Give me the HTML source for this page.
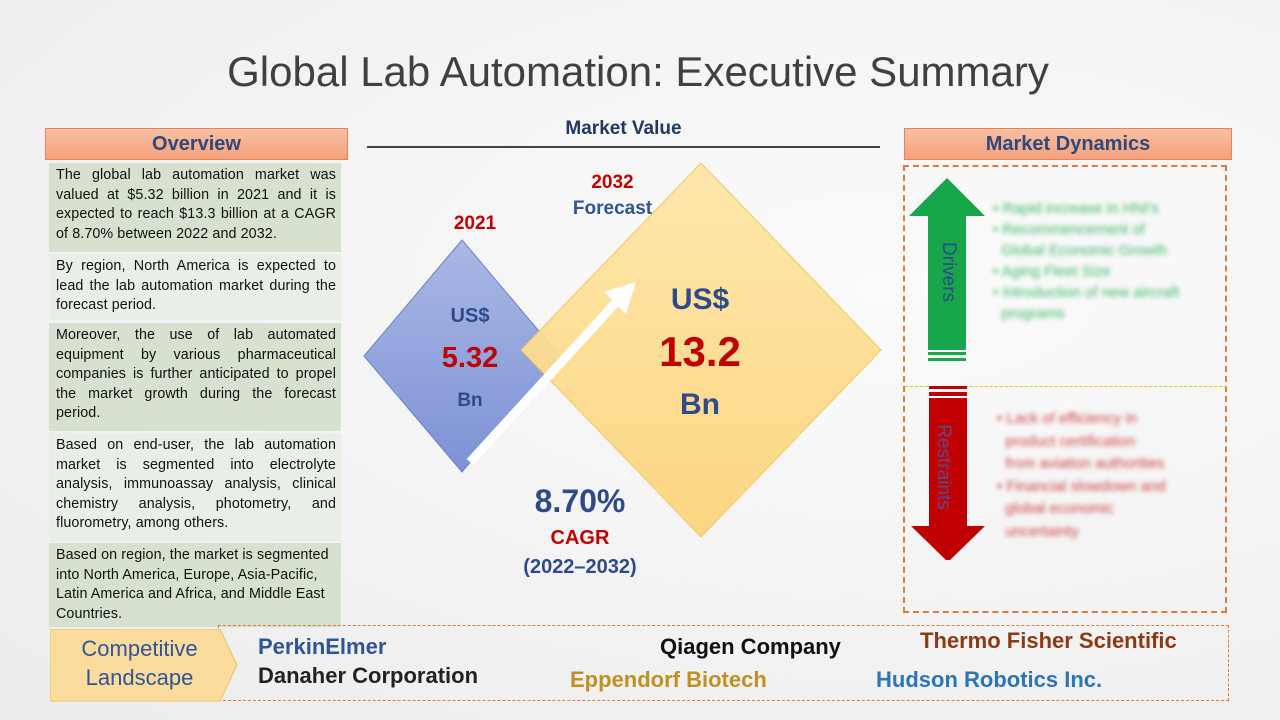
<!DOCTYPE html>
<html><head><meta charset="utf-8"><style>
body{margin:0;width:1280px;height:720px;overflow:hidden;background:radial-gradient(ellipse at 70% 40%,#fbfbfb,#ececec);font-family:"Liberation Sans",sans-serif;position:relative}
.a{position:absolute}
.hdr{background:linear-gradient(#f9c0a4,#f4a07a);border:1px solid #e8845a;color:#2f4a7a;font-weight:bold;font-size:20px;text-align:center;line-height:30px}
.row{position:absolute;left:49px;width:292px;font-size:14.3px;line-height:19.5px;color:#111;text-align:justify;padding:3px 5px 0 7px;box-sizing:border-box;letter-spacing:0.1px}
.d{background:#d6e2cf}.l{background:#e9efe6}
</style></head><body>
<div class="a" style="left:0;width:1276px;top:48px;text-align:center;font-size:42px;color:#404040">Global Lab Automation: Executive Summary</div>

<div class="a hdr" style="left:45px;top:128px;width:301px;height:30px">Overview</div>
<div class="row d" style="top:163px;height:89px">The global lab automation market was valued at $5.32 billion in 2021 and it is expected to reach $13.3 billion at a CAGR of 8.70% between 2022 and 2032.</div>
<div class="row l" style="top:254px;height:66px">By region, North America is expected to lead the lab automation market during the forecast period.</div>
<div class="row d" style="top:323px;height:108px">Moreover, the use of lab automated equipment by various pharmaceutical companies is further anticipated to propel the market growth during the forecast period.</div>
<div class="row l" style="top:433px;height:108px">Based on end-user, the lab automation market is segmented into electrolyte analysis, immunoassay analysis, clinical chemistry analysis, photometry, and fluorometry, among others.</div>
<div class="row d" style="top:543px;height:84px;text-align:left">Based on region, the market is segmented into North America, Europe, Asia-Pacific, Latin America and Africa, and Middle East Countries.</div>

<div class="a" style="left:367px;width:513px;top:118px;text-align:center;font-weight:bold;font-size:19px;color:#1f3864">Market Value</div>
<div class="a" style="left:367px;width:513px;top:146px;height:2px;background:#444"></div>

<svg class="a" style="left:0;top:0" width="1280" height="720">
<defs><linearGradient id="bg" x1="0" y1="0" x2="0" y2="1"><stop offset="0" stop-color="#a9b8e4"/><stop offset="1" stop-color="#7d92d6"/></linearGradient>
<linearGradient id="yg" x1="0" y1="0" x2="0" y2="1"><stop offset="0" stop-color="#ffe6a8"/><stop offset="1" stop-color="#fdd57d"/></linearGradient></defs>
<polygon points="462,240 560,356 462,472 364,356" fill="url(#bg)" stroke="#6a80c8"/>
<polygon points="701,163 881,350 701,537 521,350" fill="url(#yg)" stroke="#f2c75a" opacity="0.95"/>
<line x1="470" y1="462" x2="620" y2="298" stroke="#fff" stroke-width="9"/>
<polygon points="636,282 604,292 626,314" fill="#fff"/>
</svg>
<div class="a" style="left:430px;width:90px;top:213px;text-align:center;font-weight:bold;font-size:19px;color:#c00000">2021</div>
<div class="a" style="left:420px;width:100px;top:302px;text-align:center;color:#2f4a8a;font-weight:bold;font-size:20px;line-height:28px">US$<br><span style="color:#c00000;font-size:29px;line-height:56px">5.32</span><br><span style="font-size:19px">Bn</span></div>
<div class="a" style="left:560px;width:105px;top:170px;text-align:center;font-weight:bold;font-size:19px;line-height:26px;color:#c00000">2032<br><span style="color:#2f5597">Forecast</span></div>
<div class="a" style="left:640px;width:120px;top:283px;text-align:center;color:#2f4a8a;font-weight:bold;font-size:30px">US$</div>
<div class="a" style="left:620px;width:160px;top:328px;text-align:center;color:#c00000;font-weight:bold;font-size:42px">13.2</div>
<div class="a" style="left:640px;width:120px;top:388px;text-align:center;color:#2f4a8a;font-weight:bold;font-size:30px">Bn</div>
<div class="a" style="left:500px;width:160px;top:483px;text-align:center;font-weight:bold;color:#2f4a8a;font-size:32px">8.70%</div>
<div class="a" style="left:500px;width:160px;top:527px;text-align:center;font-weight:bold;color:#c00000;font-size:20px">CAGR</div>
<div class="a" style="left:490px;width:180px;top:556px;text-align:center;font-weight:bold;color:#2f4a8a;font-size:20px">(2022–2032)</div>

<div class="a hdr" style="left:904px;top:128px;width:326px;height:30px">Market Dynamics</div>
<div class="a" style="left:903px;top:165px;width:324px;height:448px;border:2px dashed #e07b39;box-sizing:border-box"></div>
<div class="a" style="left:905px;top:386px;width:322px;border-top:1px dashed #e8c020"></div>
<svg class="a" style="left:900px;top:170px" width="100" height="390">
<polygon points="47,8 85,46 66,46 66,180 28,180 28,46 9,46" fill="#17a64a"/>
<rect x="28" y="182" width="38" height="3" fill="#17a64a"/><rect x="28" y="188" width="38" height="3" fill="#17a64a"/>
<rect x="29" y="216" width="38" height="3" fill="#c00000"/><rect x="29" y="222" width="38" height="4" fill="#c00000"/>
<polygon points="29,228 67,228 67,356 85,356 48,392 11,356 29,356" fill="#c00000"/>
</svg>
<div class="a" style="left:903px;top:261px;width:90px;text-align:center;transform:rotate(90deg);color:#2f4a8a;font-size:19px">Drivers</div>
<div class="a" style="left:898px;top:456px;width:90px;text-align:center;transform:rotate(90deg);color:#5a4a8a;font-size:19px">Restraints</div>
<div class="a" style="left:993px;top:198px;width:230px;font-size:15px;line-height:21px;color:#3cb868;filter:blur(2.5px)">• Rapid increase in HNI's<br>• Recommencement of<br>&nbsp;&nbsp;Global Economic Growth<br>• Aging Fleet Size<br>• Introduction of new aircraft<br>&nbsp;&nbsp;programs</div>
<div class="a" style="left:997px;top:408px;width:225px;font-size:15px;line-height:22.5px;color:#d04040;filter:blur(2.5px)">• Lack of efficiency in<br>&nbsp;&nbsp;product certification<br>&nbsp;&nbsp;from aviation authorities<br>• Financial slowdown and<br>&nbsp;&nbsp;global economic<br>&nbsp;&nbsp;uncertainty</div>

<div class="a" style="left:218px;top:625px;width:1011px;height:76px;border:1px dashed #e07b39;box-sizing:border-box"></div>
<svg class="a" style="left:50px;top:629px" width="190" height="74"><polygon points="0,0 170,0 187,36 170,72 0,72" fill="#fcdc9c" stroke="#f0c060"/></svg>
<div class="a" style="left:52px;top:634px;width:175px;text-align:center;color:#2f5597;font-size:22px;line-height:29px">Competitive<br>Landscape</div>
<div class="a" style="left:258px;top:634px;font-weight:bold;font-size:22px;color:#2f5597">PerkinElmer</div>
<div class="a" style="left:258px;top:663px;font-weight:bold;font-size:22px;color:#222">Danaher Corporation</div>
<div class="a" style="left:660px;top:634px;font-weight:bold;font-size:22px;color:#111">Qiagen Company</div>
<div class="a" style="left:570px;top:667px;font-weight:bold;font-size:22px;color:#c09020">Eppendorf Biotech</div>
<div class="a" style="left:920px;top:628px;font-weight:bold;font-size:22px;color:#8b3a14">Thermo Fisher Scientific</div>
<div class="a" style="left:876px;top:667px;font-weight:bold;font-size:22px;color:#2e75b6">Hudson Robotics Inc.</div>
</body></html>
